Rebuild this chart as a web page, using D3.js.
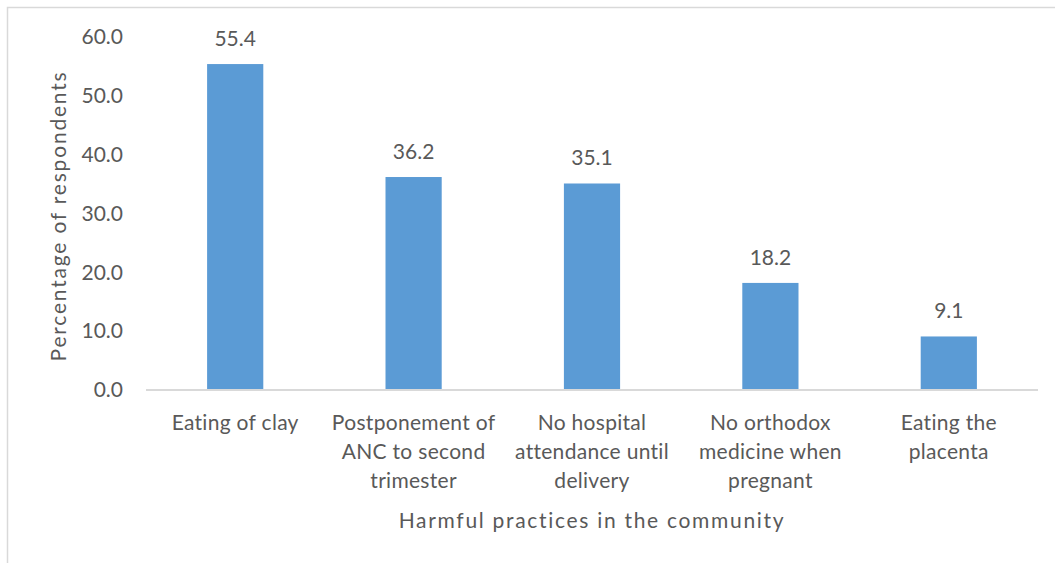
<!DOCTYPE html>
<html>
<head>
<meta charset="utf-8">
<script src="https://cdn.jsdelivr.net/npm/d3@7"></script>
<style>
  html, body { margin: 0; padding: 0; background: #fff; }
  svg { display: block; }
  text { font-family: Lato, "Open Sans", sans-serif; fill: #595959; }
</style>
</head>
<body>
<svg id="chart" width="1055" height="563"></svg>
<script>
// Harmful practices reported in the community (% of respondents)
const categories = [
  ["Eating of clay"],
  ["Postponement of", "ANC to second", "trimester"],
  ["No hospital", "attendance until", "delivery"],
  ["No orthodox", "medicine when", "pregnant"],
  ["Eating the", "placenta"]
];
const values = [55.4, 36.2, 35.1, 18.2, 9.1];
const yTicks = [0, 10, 20, 30, 40, 50, 60];
const xTitle = "Harmful practices in the community";
const yTitle = "Percentage of respondents";

const svg = d3.select("#chart");
const W = 1055, H = 563;

// outer chart border
svg.append("rect")
  .attr("x", 7.5).attr("y", 7.5)
  .attr("width", W + 10).attr("height", H + 10)
  .attr("fill", "none").attr("stroke", "#d9d9d9").attr("stroke-width", 1.5);

const plot = { left: 146, right: 1038, top: 37, bottom: 390 };

const x = d3.scaleBand()
  .domain(d3.range(categories.length))
  .range([plot.left, plot.right])
  .paddingInner(0.685).paddingOuter(0.3425);

const y = d3.scaleLinear().domain([0, 60]).range([plot.bottom, plot.top]);

// bars
svg.append("g").selectAll("rect")
  .data(values)
  .join("rect")
  .attr("x", (d, i) => x(i))
  .attr("y", d => y(d))
  .attr("width", x.bandwidth())
  .attr("height", d => y(0) - y(d))
  .attr("fill", "#5b9bd5");

// value labels
svg.append("g").selectAll("text")
  .data(values)
  .join("text")
  .attr("x", (d, i) => x(i) + x.bandwidth() / 2)
  .attr("y", d => y(d) - 18)
  .attr("text-anchor", "middle")
  .attr("font-size", 21)
  .text(d => d.toFixed(1));

// y axis (labels only)
const yAxis = d3.axisLeft(y).tickValues(yTicks).tickFormat(d3.format(".1f")).tickSize(0).tickPadding(0);
const gy = svg.append("g").attr("transform", `translate(${123},0)`).call(yAxis);
gy.select(".domain").remove();
gy.selectAll("text").attr("font-size", 21).attr("fill", "#595959")
  .style("font-family", "Lato, 'Open Sans', sans-serif");

// x baseline
const xAxis = d3.axisBottom(x).tickSize(0).tickFormat("");
const gx = svg.append("g").attr("transform", `translate(0,${plot.bottom})`).call(xAxis);
gx.select(".domain").attr("stroke", "#d9d9d9").attr("stroke-width", 2)
  .attr("d", `M${plot.left},0H${plot.right}`);

// category labels
const catG = svg.append("g");
categories.forEach((lines, i) => {
  const cx = x(i) + x.bandwidth() / 2;
  const t = catG.append("text")
    .attr("x", cx)
    .attr("y", 430)
    .attr("text-anchor", "middle")
    .attr("font-size", 21)
    .attr("letter-spacing", 0.3);
  lines.forEach((ln, j) => {
    t.append("tspan")
      .attr("x", cx)
      .attr("y", 430 + j * 29)
      .text(ln);
  });
});

// axis titles
svg.append("text")
  .attr("x", (plot.left + plot.right) / 2)
  .attr("y", 528)
  .attr("text-anchor", "middle")
  .attr("font-size", 21)
  .attr("letter-spacing", 1.7)
  .text(xTitle);

svg.append("text")
  .attr("transform", `translate(66,${216}) rotate(-90)`)
  .attr("text-anchor", "middle")
  .attr("font-size", 21)
  .attr("letter-spacing", 1.8)
  .text(yTitle);
</script>
</body>
</html>
